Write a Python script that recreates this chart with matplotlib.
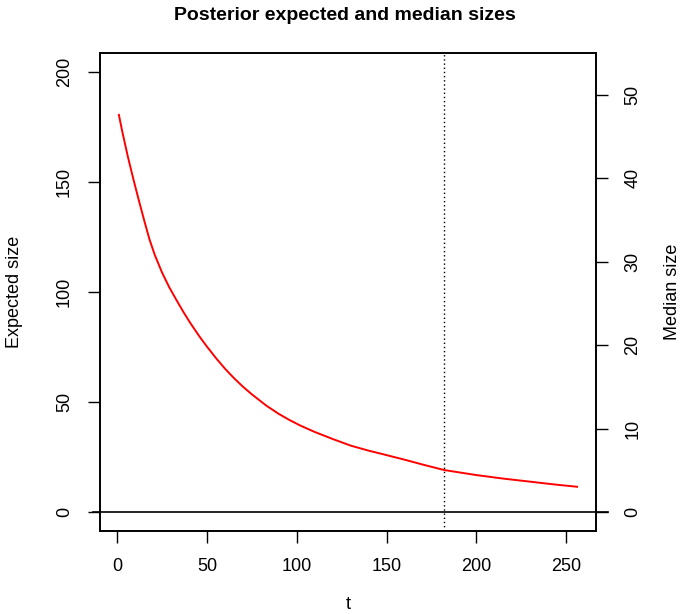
import matplotlib
matplotlib.use("Agg")
import matplotlib.pyplot as plt
from matplotlib.lines import Line2D

# Data
t_vals = [1, 3, 6, 9, 12, 15, 18, 21, 25, 29, 33, 37, 41, 46, 50, 55, 60, 65, 70,
          75, 83, 90, 96, 102, 110, 120, 130, 140, 146, 160, 170, 182, 200, 215,
          230, 245, 256]
expected_size = [180.5, 172.5, 161.5, 151.5, 142, 132.8, 124, 116.8, 108.9, 102.2,
                 96.4, 90.8, 85.6, 79.6, 75.2, 70, 65.2, 60.9, 57, 53.5, 48.4, 44.6,
                 41.8, 39.3, 36.4, 33.2, 30.2, 27.9, 26.7, 23.8, 21.6, 19.1, 16.8,
                 15.2, 13.8, 12.4, 11.5]
median_level = 0
vline_t = 182
x_ticks = [0, 50, 100, 150, 200, 250]
left_ticks = [0, 50, 100, 150, 200]
right_ticks = [0, 10, 20, 30, 40, 50]

plt.rcParams['font.family'] = ['Liberation Sans', 'DejaVu Sans']

fig = plt.figure(figsize=(6.8, 6.14), dpi=100)
ax = fig.add_axes([100/680, (614-531)/614, 496/680, 478/614])

ax.plot(t_vals, expected_size, color='red', lw=1.4)
ax.axvline(vline_t, color='black', lw=1.0, linestyle=(0, (1, 2)))
ax.add_line(Line2D([-0.015, 1.025], [median_level, median_level],
                   transform=ax.get_yaxis_transform(),
                   color='black', lw=1.2, clip_on=False))

ax.set_xlim(-9.5, 266.5)
ax.set_ylim(-8.6, 208.6)
ax.set_xticks(x_ticks)
ax.set_yticks(left_ticks)
ax.set_yticklabels([str(v) for v in left_ticks], rotation=90, va='center')
ax.tick_params(axis='both', direction='out', length=8.5, width=1.0, labelsize=13)
ax.tick_params(axis='x', pad=11)
ax.tick_params(axis='y', pad=11)
for s in ax.spines.values():
    s.set_linewidth(1.2)

ax.set_xlabel('t', fontsize=13, labelpad=15)
ax.set_ylabel('Expected size', fontsize=13, labelpad=24)

ax2 = ax.twinx()
ax2.set_ylim(-2.28, 55.04)
ax2.set_yticks(right_ticks)
ax2.set_yticklabels([str(v) for v in right_ticks], rotation=90, va='center')
ax2.tick_params(axis='y', direction='out', length=8.5, width=1.0, labelsize=13, pad=12)
ax2.set_ylabel('Median size', fontsize=13, labelpad=16, rotation=90)
for s in ax2.spines.values():
    s.set_linewidth(1.2)

fig.text(345/680, 1 - 15/614, 'Posterior expected and median sizes',
         ha='center', va='center', fontsize=14, fontweight='bold')

fig.savefig('out.png', dpi=100)
